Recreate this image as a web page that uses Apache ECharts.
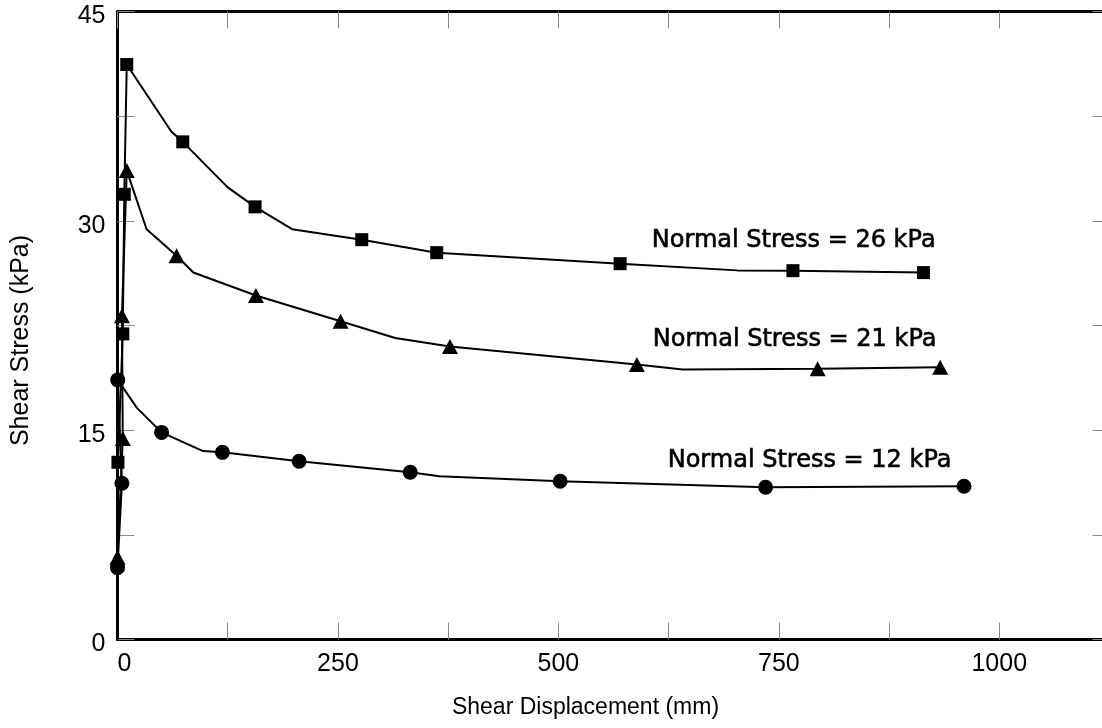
<!DOCTYPE html>
<html><head><meta charset="utf-8">
<script src="https://cdn.jsdelivr.net/npm/echarts@6/dist/echarts.min.js"></script>
<style>html,body{margin:0;padding:0;background:#fff}#c{width:1102px;height:728px}</style>
</head><body><div id="c"></div>
<script>
// Shear displacement (mm), shear stress (kPa), 1 = point drawn with a marker
const stress26 = [[0,0,0],[0.5,12.7,1],[6,21.9,1],[7.7,31.9,1],[10.5,41.2,1],[61,36.4,0],[74,35.66,1],[125,32.4,0],[156,31.0,1],[198,29.4,0],[277,28.65,1],[362,27.72,1],[570,26.93,1],[703,26.45,0],[766,26.43,1],[914,26.29,1]];
const stress21 = [[0,0,0],[0,5.9,1],[6,14.4,1],[5,23.2,1],[10.5,33.6,1],[33,29.4,0],[67,27.5,1],[86,26.3,0],[157,24.65,1],[253,22.8,1],[315,21.6,0],[377,20.99,1],[589,19.7,1],[641,19.35,0],[794,19.4,1],[933,19.5,1]];
const stress12 = [[0,0,0],[0,5.15,1],[5,11.2,1],[0.3,18.6,1],[22,16.6,0],[50,14.84,1],[97,13.5,0],[119,13.41,1],[206,12.77,1],[332,11.98,1],[365,11.7,0],[502,11.34,1],[735,10.91,1],[960,10.98,1]];
const seriesNames = ['Normal Stress = 26 kPa','Normal Stress = 21 kPa','Normal Stress = 12 kPa'];
const labelAnchors = [[606,28.6],[607,21.5],[624,12.8]];
const xTickLabels = ['0','250','500','750','1000'];
const yTickLabels = ['0','15','30','45'];

const symbols = ['rect','triangle','circle'];
const symSizes = [13,[16,15],15];
const allSeries = [stress26, stress21, stress12];

const chart = echarts.init(document.getElementById('c'), null, {renderer:'canvas'});
const tickStyle = {show:true, inside:true, length:17, lineStyle:{color:'#8a8a8a', width:1}};
const axisLine = {show:true, onZero:false, lineStyle:{color:'#000', width:3}};
const labFont = {color:'#000', fontFamily:'Liberation Sans', fontSize:25};

const series = allSeries.map((pts, i) => ({
  type:'line', name: seriesNames[i], xAxisIndex:0, yAxisIndex:0,
  symbol: symbols[i], symbolSize: symSizes[i], showAllSymbol:true,
  lineStyle:{color:'#000', width:2}, itemStyle:{color:'#000'},
  silent:true, animation:false, z:3,
  data: pts.map(p => ({value:[p[0],p[1]], symbol: p[2] ? symbols[i] : 'none'}))
}));
series.push({
  type:'scatter', symbolSize:0, silent:true, animation:false,
  data: labelAnchors.map((a,i)=>({value:a, name: seriesNames[i]})),
  label:{show:true, position:[0,0], align:'left', verticalAlign:'middle',
    formatter: p => p.name, color:'#000000', opacity:1,
    textBorderColor:'#000', textBorderWidth:0.6,
    fontFamily:'DejaVu Sans', fontSize:24}
});

chart.setOption({
  animation:false,
  backgroundColor:'#fff',
  grid:{left:117.5, top:11.5, right:-7.5, bottom:88.5, containLabel:false, outerBoundsMode:'none'},
  xAxis:[{
    type:'value', min:0, max:1125, interval:125, position:'bottom',
    axisLine, axisTick:tickStyle, splitLine:{show:false},
    axisLabel:{...labFont, margin:12, alignMinLabel:'left', hideOverlap:false,
      formatter: v => xTickLabels.includes(String(v)) ? String(v) : ''},
    name:'Shear Displacement (mm)', nameLocation:'middle', nameGap:57,
    nameTextStyle:{color:'#000', fontFamily:'Liberation Sans', fontSize:23, padding:[0,56,0,0]}
  },{
    type:'value', min:0, max:1125, interval:125, position:'top',
    axisLine, axisTick:tickStyle, axisLabel:{show:false}, splitLine:{show:false}
  }],
  yAxis:[{
    type:'value', min:0, max:45, interval:7.5, position:'left',
    axisLine, axisTick:tickStyle, splitLine:{show:false},
    axisLabel:{...labFont, margin:12, verticalAlign:'top', lineHeight:10, hideOverlap:false,
      formatter: v => yTickLabels.includes(String(v)) ? String(v) : ''},
    name:'Shear Stress (kPa)', nameLocation:'middle', nameGap:84,
    nameTextStyle:{color:'#000', fontFamily:'Liberation Sans', fontSize:25, padding:[0,30,0,0]}
  },{
    type:'value', min:0, max:45, interval:7.5, position:'right',
    axisLine, axisTick:tickStyle, axisLabel:{show:false}, splitLine:{show:false}
  }],
  series
});
</script></body></html>
